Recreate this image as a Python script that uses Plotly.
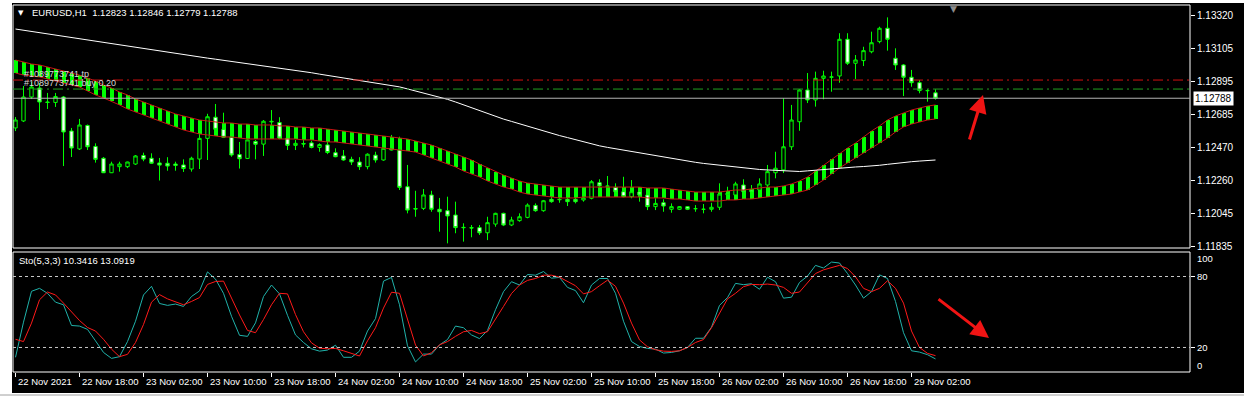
import plotly.graph_objects as go

# ---------------- data ----------------
opens = [1.12597, 1.12642, 1.12796, 1.12854, 1.12764, 1.12761, 1.12796, 1.12577, 1.12462, 1.12613,
         1.12478, 1.12402, 1.12309, 1.12348, 1.12348, 1.12365, 1.12420, 1.12402, 1.12372, 1.12370,
         1.12365, 1.12359, 1.12333, 1.12397, 1.12530, 1.12666, 1.12588, 1.12537, 1.12426, 1.12401,
         1.12510, 1.12493, 1.12640, 1.12632, 1.12532, 1.12485, 1.12497, 1.12501, 1.12472, 1.12488,
         1.12438, 1.12417, 1.12395, 1.12378, 1.12348, 1.12422, 1.12391, 1.12466, 1.12455, 1.12219,
         1.12079, 1.12080, 1.12166, 1.12074, 1.12065, 1.12037, 1.11958, 1.11956, 1.11956, 1.11923,
         1.11979, 1.12048, 1.11973, 1.12001, 1.12022, 1.12099, 1.12065, 1.12138, 1.12138, 1.12138,
         1.12138, 1.12134, 1.12145, 1.12245, 1.12224, 1.12215, 1.12187, 1.12155, 1.12185, 1.12166,
         1.12091, 1.12116, 1.12074, 1.12074, 1.12091, 1.12078, 1.12074, 1.12074, 1.12087, 1.12168,
         1.12166, 1.12230, 1.12202, 1.12198, 1.12230, 1.12309, 1.12327, 1.12476, 1.12637, 1.12841,
         1.12777, 1.12916, 1.12923, 1.12931, 1.13167, 1.13013, 1.13030, 1.13087, 1.13152, 1.13238,
         1.13045, 1.13002, 1.12923, 1.12888, 1.12837, 1.12823]
highs = [1.12667, 1.12867, 1.12892, 1.12886, 1.12822, 1.12822, 1.12802, 1.12597, 1.12655, 1.12619,
         1.12498, 1.12410, 1.12380, 1.12380, 1.12380, 1.12423, 1.12438, 1.12434, 1.12404, 1.12409,
         1.12380, 1.12395, 1.12412, 1.12648, 1.12688, 1.12751, 1.12695, 1.12541, 1.12507, 1.12524,
         1.12520, 1.12648, 1.12712, 1.12666, 1.12541, 1.12520, 1.12520, 1.12515, 1.12498, 1.12509,
         1.12466, 1.12455, 1.12412, 1.12409, 1.12434, 1.12444, 1.12476, 1.12552, 1.12541, 1.12359,
         1.12193, 1.12204, 1.12193, 1.12147, 1.12155, 1.12123, 1.11984, 1.11973, 1.11973, 1.12026,
         1.12052, 1.12052, 1.12026, 1.12048, 1.12112, 1.12112, 1.12134, 1.12166, 1.12166, 1.12155,
         1.12155, 1.12155, 1.12262, 1.12267, 1.12288, 1.12241, 1.12283, 1.12262, 1.12215, 1.12177,
         1.12145, 1.12138, 1.12112, 1.12095, 1.12095, 1.12101, 1.12108, 1.12116, 1.12241, 1.12219,
         1.12251, 1.12267, 1.12230, 1.12273, 1.12359, 1.12444, 1.12788, 1.12745, 1.12847, 1.12950,
         1.12959, 1.12965, 1.12959, 1.13206, 1.13206, 1.13066, 1.13119, 1.13216, 1.13248, 1.13308,
         1.13109, 1.13008, 1.12970, 1.12905, 1.12846, 1.12846]
lows = [1.12577, 1.12635, 1.12783, 1.12648, 1.12719, 1.12732, 1.12352, 1.12410, 1.12455, 1.12455,
        1.12374, 1.12307, 1.12307, 1.12316, 1.12339, 1.12359, 1.12383, 1.12365, 1.12259, 1.12322,
        1.12322, 1.12314, 1.12316, 1.12333, 1.12391, 1.12584, 1.12532, 1.12412, 1.12336, 1.12397,
        1.12395, 1.12417, 1.12552, 1.12524, 1.12455, 1.12455, 1.12472, 1.12466, 1.12444, 1.12429,
        1.12409, 1.12386, 1.12359, 1.12327, 1.12331, 1.12374, 1.12386, 1.12452, 1.12198, 1.12048,
        1.12026, 1.12069, 1.12058, 1.11930, 1.11855, 1.11920, 1.11866, 1.11894, 1.11909, 1.11876,
        1.11962, 1.11966, 1.11966, 1.11994, 1.12016, 1.12058, 1.12058, 1.12116, 1.12116, 1.12095,
        1.12112, 1.12123, 1.12138, 1.12198, 1.12155, 1.12166, 1.12151, 1.12145, 1.12123, 1.12069,
        1.12069, 1.12058, 1.12052, 1.12069, 1.12069, 1.12058, 1.12048, 1.12058, 1.12069, 1.12134,
        1.12134, 1.12177, 1.12177, 1.12193, 1.12215, 1.12273, 1.12307, 1.12455, 1.12579, 1.12757,
        1.12734, 1.12781, 1.12830, 1.12888, 1.13002, 1.12911, 1.12995, 1.13077, 1.13141, 1.13094,
        1.12970, 1.12802, 1.12862, 1.12820, 1.12766, 1.12779]
closes = [1.12648, 1.12796, 1.12860, 1.12764, 1.12761, 1.12799, 1.12571, 1.12468, 1.12616, 1.12476,
          1.12395, 1.12309, 1.12365, 1.12365, 1.12378, 1.12417, 1.12397, 1.12370, 1.12358, 1.12352,
          1.12356, 1.12336, 1.12402, 1.12530, 1.12669, 1.12588, 1.12537, 1.12423, 1.12399, 1.12520,
          1.12492, 1.12640, 1.12637, 1.12532, 1.12485, 1.12498, 1.12494, 1.12472, 1.12490, 1.12439,
          1.12412, 1.12391, 1.12378, 1.12348, 1.12428, 1.12391, 1.12466, 1.12455, 1.12215, 1.12069,
          1.12076, 1.12166, 1.12074, 1.12058, 1.12031, 1.11956, 1.11956, 1.11954, 1.11923, 1.11988,
          1.12048, 1.11973, 1.12005, 1.12026, 1.12101, 1.12065, 1.12129, 1.12123, 1.12136, 1.12123,
          1.12123, 1.12148, 1.12251, 1.12224, 1.12222, 1.12187, 1.12155, 1.12187, 1.12166, 1.12091,
          1.12112, 1.12095, 1.12091, 1.12091, 1.12074, 1.12078, 1.12074, 1.12087, 1.12172, 1.12175,
          1.12237, 1.12187, 1.12187, 1.12237, 1.12316, 1.12338, 1.12476, 1.12648, 1.12841, 1.12777,
          1.12916, 1.12931, 1.12925, 1.13167, 1.13013, 1.13034, 1.13094, 1.13145, 1.13238, 1.13167,
          1.13002, 1.12923, 1.12888, 1.12837, 1.12837, 1.12788]

ribbon_upper = [1.13034, 1.13021, 1.13008, 1.13002, 1.12989, 1.12976, 1.12963, 1.12950, 1.12937, 1.12918,
                1.12899, 1.12873, 1.12854, 1.12828, 1.12809, 1.12783, 1.12764, 1.12745, 1.12725, 1.12706,
                1.12687, 1.12674, 1.12661, 1.12648, 1.12642, 1.12635, 1.12629, 1.12629, 1.12622, 1.12622,
                1.12616, 1.12616, 1.12616, 1.12610, 1.12610, 1.12603, 1.12603, 1.12597, 1.12597, 1.12590,
                1.12584, 1.12577, 1.12571, 1.12565, 1.12558, 1.12552, 1.12545, 1.12539, 1.12532, 1.12526,
                1.12513, 1.12500, 1.12487, 1.12468, 1.12449, 1.12430, 1.12410, 1.12391, 1.12365, 1.12340,
                1.12314, 1.12294, 1.12275, 1.12256, 1.12243, 1.12237, 1.12230, 1.12224, 1.12217, 1.12217,
                1.12217, 1.12217, 1.12217, 1.12217, 1.12217, 1.12217, 1.12217, 1.12217, 1.12217, 1.12211,
                1.12211, 1.12211, 1.12204, 1.12198, 1.12192, 1.12185, 1.12185, 1.12185, 1.12185, 1.12192,
                1.12198, 1.12198, 1.12204, 1.12211, 1.12217, 1.12217, 1.12224, 1.12237, 1.12256, 1.12282,
                1.12320, 1.12359, 1.12397, 1.12436, 1.12468, 1.12500, 1.12539, 1.12577, 1.12610, 1.12648,
                1.12674, 1.12693, 1.12712, 1.12725, 1.12738, 1.12745]
ribbon_lower = [1.12950, 1.12937, 1.12931, 1.12925, 1.12912, 1.12899, 1.12886, 1.12873, 1.12860, 1.12835,
                1.12809, 1.12790, 1.12770, 1.12745, 1.12719, 1.12700, 1.12680, 1.12661, 1.12642, 1.12622,
                1.12603, 1.12584, 1.12571, 1.12558, 1.12552, 1.12545, 1.12539, 1.12539, 1.12532, 1.12526,
                1.12526, 1.12526, 1.12526, 1.12526, 1.12526, 1.12526, 1.12520, 1.12520, 1.12513, 1.12507,
                1.12507, 1.12500, 1.12494, 1.12487, 1.12481, 1.12475, 1.12468, 1.12462, 1.12455, 1.12449,
                1.12442, 1.12423, 1.12404, 1.12385, 1.12365, 1.12346, 1.12320, 1.12301, 1.12282, 1.12256,
                1.12237, 1.12217, 1.12204, 1.12185, 1.12172, 1.12166, 1.12159, 1.12153, 1.12147, 1.12147,
                1.12147, 1.12153, 1.12153, 1.12153, 1.12153, 1.12153, 1.12153, 1.12153, 1.12153, 1.12147,
                1.12147, 1.12147, 1.12140, 1.12140, 1.12134, 1.12127, 1.12127, 1.12127, 1.12127, 1.12134,
                1.12134, 1.12140, 1.12140, 1.12147, 1.12153, 1.12159, 1.12166, 1.12172, 1.12185, 1.12198,
                1.12230, 1.12262, 1.12301, 1.12340, 1.12372, 1.12404, 1.12436, 1.12468, 1.12500, 1.12532,
                1.12571, 1.12603, 1.12622, 1.12635, 1.12648, 1.12655]
ma_long = [1.13233, 1.13225, 1.13217, 1.13209, 1.13202, 1.13193, 1.13186, 1.13178, 1.13170, 1.13162,
           1.13154, 1.13146, 1.13139, 1.13131, 1.13123, 1.13116, 1.13108, 1.13100, 1.13092, 1.13085,
           1.13077, 1.13069, 1.13062, 1.13054, 1.13046, 1.13039, 1.13032, 1.13025, 1.13018, 1.13010,
           1.13003, 1.12996, 1.12989, 1.12981, 1.12974, 1.12967, 1.12959, 1.12952, 1.12943, 1.12935,
           1.12927, 1.12918, 1.12910, 1.12902, 1.12894, 1.12885, 1.12877, 1.12869, 1.12861, 1.12848,
           1.12835, 1.12822, 1.12808, 1.12795, 1.12781, 1.12764, 1.12745, 1.12727, 1.12709, 1.12690,
           1.12671, 1.12654, 1.12639, 1.12623, 1.12608, 1.12592, 1.12577, 1.12562, 1.12548, 1.12535,
           1.12521, 1.12508, 1.12495, 1.12482, 1.12472, 1.12463, 1.12454, 1.12444, 1.12435, 1.12426,
           1.12417, 1.12409, 1.12401, 1.12393, 1.12385, 1.12376, 1.12369, 1.12363, 1.12357, 1.12350,
           1.12344, 1.12338, 1.12332, 1.12330, 1.12327, 1.12325, 1.12322, 1.12320, 1.12317, 1.12321,
           1.12326, 1.12330, 1.12335, 1.12339, 1.12343, 1.12346, 1.12349, 1.12352, 1.12357, 1.12363,
           1.12370, 1.12375, 1.12380, 1.12384, 1.12387, 1.12391]

sto_k = [11.7, 41.4, 67.5, 70.0, 65.8, 58.3, 56.1, 38.6, 38.1, 35.3,
         25.6, 15.8, 10.8, 12.2, 25.0, 42.2, 64.4, 71.7, 57.2, 55.6,
         56.7, 54.7, 63.1, 67.8, 83.9, 77.8, 65.8, 46.4, 30.3, 29.4,
         40.8, 63.1, 72.8, 65.3, 47.2, 30.6, 24.2, 18.9, 16.9, 17.8,
         21.9, 11.7, 11.7, 16.9, 33.9, 44.4, 76.1, 79.2, 56.1, 21.4,
         7.8, 14.4, 14.4, 22.2, 26.7, 38.1, 36.7, 30.6, 27.5, 34.4,
         51.9, 67.2, 75.6, 72.8, 81.7, 81.1, 84.2, 78.6, 79.2, 70.8,
         68.1, 57.8, 72.8, 78.3, 78.3, 65.8, 42.2, 25.0, 20.8, 19.2,
         18.6, 15.3, 15.8, 17.2, 20.0, 27.8, 27.8, 37.2, 55.6, 62.2,
         74.2, 73.1, 73.9, 69.2, 79.4, 75.6, 61.7, 62.5, 75.0, 80.3,
         89.4, 87.2, 92.2, 91.4, 82.5, 72.8, 61.7, 67.2, 81.4, 78.3,
         58.9, 32.5, 17.2, 16.1, 13.9, 10.3416]
sto_d = [26.9, 25.0, 40.6, 60.3, 66.9, 64.4, 57.5, 49.7, 42.8, 36.9,
         33.9, 26.9, 18.6, 12.2, 14.2, 24.2, 39.4, 58.3, 64.7, 61.1,
         58.3, 56.1, 58.9, 62.2, 73.3, 75.8, 76.1, 61.7, 47.5, 34.4,
         32.5, 43.6, 56.1, 65.8, 65.3, 47.8, 33.3, 23.9, 19.4, 18.9,
         19.2, 17.2, 14.7, 12.8, 25.6, 36.7, 53.3, 66.7, 65.8, 43.6,
         22.0, 12.8, 15.6, 22.2, 25.0, 29.4, 33.3, 34.4, 31.7, 33.3,
         43.6, 54.7, 65.6, 72.8, 76.7, 78.3, 81.1, 81.1, 79.4, 76.1,
         72.2, 65.3, 67.2, 72.2, 76.9, 71.7, 57.5, 40.6, 26.4, 20.6,
         18.1, 16.9, 16.7, 17.2, 20.0, 24.2, 26.7, 36.7, 49.2, 61.1,
         65.8, 71.4, 73.3, 73.1, 73.6, 72.8, 70.8, 65.8, 66.9, 74.7,
         82.5, 85.6, 87.8, 89.4, 86.7, 79.7, 70.0, 67.2, 70.0, 76.4,
         70.0, 57.5, 33.9, 20.0, 15.0, 13.0919]

time_labels = ["22 Nov 2021", "22 Nov 18:00", "23 Nov 02:00", "23 Nov 10:00", "23 Nov 18:00",
               "24 Nov 02:00", "24 Nov 10:00", "24 Nov 18:00", "25 Nov 02:00", "25 Nov 10:00",
               "25 Nov 18:00", "26 Nov 02:00", "26 Nov 10:00", "26 Nov 18:00", "29 Nov 02:00"]
bars_per_label = 8
price_ticks = [1.13320, 1.13105, 1.12895, 1.12685, 1.12470, 1.12260, 1.12045, 1.11835]
sto_ticks = [20, 80]
bid_price = 1.12788
tp_price = 1.12905
buy_price = 1.12847
header_text = "EURUSD,H1\u00a0\u00a01.12823 1.12846 1.12779 1.12788"
sto_text = "Sto(5,3,3) 10.3416 13.0919"
order_id = "#1089773741"

# ---------------- layout geometry ----------------
W, H = 1244, 398
ML, MR, MT, MB = 13, 54, 5, 26
PW, PH = W - ML - MR, H - MT - MB
BAR_PX = 8.0
FIRST_BAR_PX = 15.5


def fx(px):
    return (px - ML) / PW


def fy(py):
    return (H - MB - py) / PH


main_dom = [fy(248), 1.0]
sto_dom = [0.0, fy(252)]
n = len(closes)
xs = list(range(n))
x_range = [(ML - FIRST_BAR_PX) / BAR_PX, (W - MR - FIRST_BAR_PX) / BAR_PX]

FONT = "Liberation Sans, Arial, sans-serif"
LIME = "#00FF00"

fig = go.Figure()

# ribbon (green histogram between two red lines)
fig.add_trace(go.Bar(x=xs, y=[u - l for u, l in zip(ribbon_upper, ribbon_lower)], base=ribbon_lower,
                     width=0.5, marker=dict(color=LIME, line=dict(width=0)), yaxis="y", hoverinfo="skip"))
fig.add_trace(go.Scatter(x=xs, y=ribbon_upper, mode="lines", line=dict(color="#C81414", width=1), yaxis="y"))
fig.add_trace(go.Scatter(x=xs, y=ribbon_lower, mode="lines", line=dict(color="#C81414", width=1), yaxis="y"))
# long moving average
fig.add_trace(go.Scatter(x=xs, y=ma_long, mode="lines", line=dict(color="white", width=1), yaxis="y"))
# candles
fig.add_trace(go.Candlestick(x=xs, open=opens, high=highs, low=lows, close=closes,
                             increasing=dict(fillcolor="black", line=dict(color=LIME, width=1)),
                             decreasing=dict(fillcolor="white", line=dict(color=LIME, width=1)),
                             whiskerwidth=0, yaxis="y"))
# stochastic
fig.add_trace(go.Scatter(x=xs, y=sto_k, mode="lines", line=dict(color="#20B2AA", width=1), yaxis="y2"))
fig.add_trace(go.Scatter(x=xs, y=sto_d, mode="lines", line=dict(color="#FF1A1A", width=1), yaxis="y2"))

shapes = [
    # white page + black terminal area
    dict(type="rect", xref="paper", yref="paper", x0=fx(12), x1=fx(W), y0=fy(393), y1=fy(3),
         fillcolor="black", line=dict(width=0), layer="below"),
    dict(type="line", xref="paper", yref="paper", x0=fx(0), x1=fx(W), y0=fy(395), y1=fy(395),
         line=dict(color="#A0A0A0", width=1)),
    # panel borders
    dict(type="rect", xref="paper", yref="paper", x0=0, x1=1, y0=main_dom[0], y1=main_dom[1],
         line=dict(color="white", width=1)),
    dict(type="rect", xref="paper", yref="paper", x0=0, x1=1, y0=sto_dom[0], y1=sto_dom[1],
         line=dict(color="white", width=1)),
    # trade lines
    dict(type="line", xref="paper", yref="y", x0=0, x1=1, y0=tp_price, y1=tp_price,
         line=dict(color="#D01010", width=1, dash="10px,4px,2px,4px")),
    dict(type="line", xref="paper", yref="y", x0=0, x1=1, y0=buy_price, y1=buy_price,
         line=dict(color="#20A020", width=1, dash="10px,4px,2px,4px")),
    dict(type="line", xref="paper", yref="y", x0=0, x1=1, y0=bid_price, y1=bid_price,
         line=dict(color="#B4B4B4", width=1)),
]
for lv in sto_ticks:
    shapes.append(dict(type="line", xref="paper", yref="y2", x0=0, x1=1, y0=lv, y1=lv,
                       line=dict(color="#C8C8C8", width=1, dash="3px,3px")))

ann = []
ann.append(dict(text="\u25BC", x=fx(21), y=fy(13), xref="paper", yref="paper", showarrow=False,
                font=dict(color="white", size=7, family="DejaVu Sans"), xanchor="center", yanchor="middle"))
ann.append(dict(text=header_text, x=fx(30), y=fy(13), xref="paper", yref="paper", showarrow=False,
                font=dict(color="white", size=9.5, family=FONT), xanchor="left", yanchor="middle"))
ann.append(dict(text=sto_text, x=fx(17), y=fy(260), xref="paper", yref="paper", showarrow=False,
                font=dict(color="white", size=9.5, family=FONT), xanchor="left", yanchor="middle"))
ann.append(dict(text=order_id + " tp", x=fx(22), y=tp_price, xref="paper", yref="y", yshift=6,
                showarrow=False, font=dict(color="#D8D8D8", size=9, family=FONT),
                xanchor="left", yanchor="middle"))
ann.append(dict(text=order_id + " buy 0.20", x=fx(22), y=buy_price, xref="paper", yref="y", yshift=6,
                showarrow=False, font=dict(color="#D8D8D8", size=9, family=FONT),
                xanchor="left", yanchor="middle"))
# current price box
ann.append(dict(text="%.5f" % bid_price, x=1, y=bid_price, xref="paper", yref="y", xshift=3,
                showarrow=False, bgcolor="white", borderpad=1,
                font=dict(color="black", size=10, family=FONT), xanchor="left", yanchor="middle"))
# stochastic 100 / 0 labels
ann.append(dict(text="100", x=1, y=100, xref="paper", yref="y2", xshift=5, yshift=-6, showarrow=False,
                font=dict(color="white", size=9.5, family=FONT), xanchor="left", yanchor="middle"))
ann.append(dict(text="0", x=1, y=0, xref="paper", yref="y2", xshift=5, yshift=6, showarrow=False,
                font=dict(color="white", size=9.5, family=FONT), xanchor="left", yanchor="middle"))
# time labels
tick_pos = [k * bars_per_label for k in range(len(time_labels))]
for p, lab in zip(tick_pos, time_labels):
    ann.append(dict(text=lab, x=p, y=fy(381), xref="x", yref="paper", xshift=0, showarrow=False,
                    font=dict(color="white", size=9.5, family=FONT), xanchor="left", yanchor="middle"))
# chart-shift marker
ann.append(dict(text="\u25BC", x=fx(953), y=fy(9), xref="paper", yref="paper", showarrow=False,
                font=dict(color="#8C8C8C", size=9, family="DejaVu Sans"), xanchor="center", yanchor="middle"))
# red hand-drawn arrows
ann.append(dict(text="", x=(983 - FIRST_BAR_PX) / BAR_PX, y=1.12809, xref="x", yref="y",
                ax=-14, ay=46, showarrow=True, arrowhead=2, arrowsize=1.2, arrowwidth=3,
                arrowcolor="#F01414", standoff=0))
ann.append(dict(text="", x=(989 - FIRST_BAR_PX) / BAR_PX, y=28.0, xref="x", yref="y2",
                ax=-52, ay=-40, showarrow=True, arrowhead=2, arrowsize=1.2, arrowwidth=3,
                arrowcolor="#F01414", standoff=0))

fig.update_layout(
    width=W, height=H,
    margin=dict(l=ML, r=MR, t=MT, b=MB, pad=0),
    paper_bgcolor="white", plot_bgcolor="black",
    showlegend=False, hovermode=False, boxgap=0.4, bargap=0,
    font=dict(family=FONT, color="white", size=10),
    xaxis=dict(domain=[0, 1], range=x_range, anchor="y2", showgrid=False, zeroline=False,
               showline=False, tickvals=tick_pos, ticks="outside", ticklen=4, tickcolor="white",
               showticklabels=False, rangeslider=dict(visible=False), fixedrange=True),
    yaxis=dict(domain=main_dom, range=[1.118251, 1.133875], side="right", anchor="x",
               showgrid=False, zeroline=False, showline=False,
               tickvals=price_ticks, ticktext=["%.5f" % v for v in price_ticks],
               ticks="outside", ticklen=4, tickcolor="white",
               tickfont=dict(color="white", size=10, family=FONT)),
    yaxis2=dict(domain=sto_dom, range=[-0.73, 100.71], side="right", anchor="x",
                showgrid=False, zeroline=False, showline=False,
                tickvals=sto_ticks, ticktext=[str(v) for v in sto_ticks],
                ticks="outside", ticklen=4, tickcolor="white",
                tickfont=dict(color="white", size=9.5, family=FONT)),
    shapes=shapes, annotations=ann,
)

fig.write_html("out.html")
